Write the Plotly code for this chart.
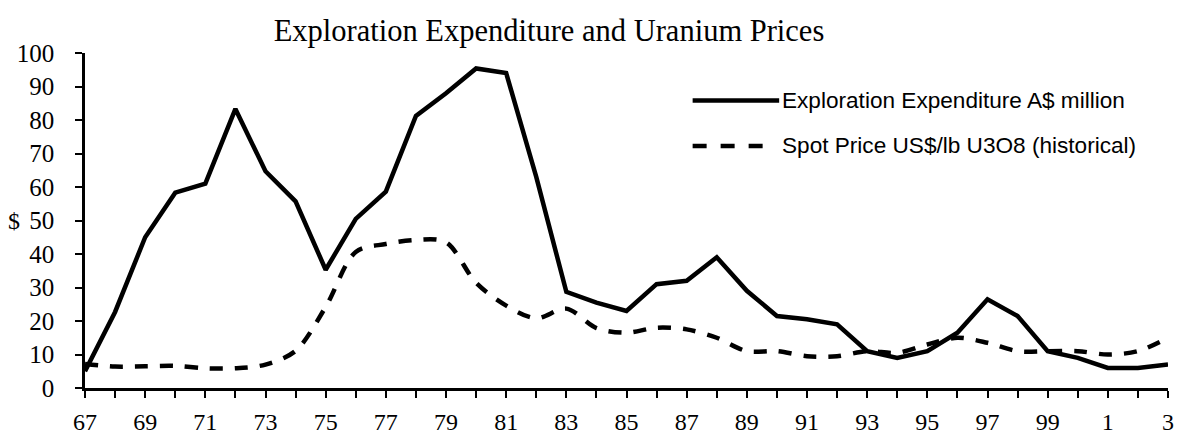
import plotly.graph_objects as go

years = list(range(1967, 2004))
expenditure = [5, 22.7, 45, 58.3, 61, 83.3, 64.7, 55.7, 35.3, 50.5, 58.6, 81.2, 88, 95.4, 94,
               63, 28.7, 25.5, 23, 31, 32, 39, 29, 21.5, 20.5, 19, 11, 9, 11, 16.5, 26.5,
               21.5, 11, 9, 6, 6, 7]
spot_price = [7.2, 6.4, 6.5, 6.6, 5.9, 5.9, 7, 11.1, 24.2, 40.6, 43, 44.2, 43.5, 31.4, 24.6,
              20.8, 23.7, 17.9, 16.5, 18, 17.5, 15, 11, 11, 9.5, 9.5, 11, 10.5, 13, 15, 13.5,
              11, 11, 11, 10, 11, 15]
tick_labels = [str(y % 100) if y % 2 == 1 else "" for y in years]
y_ticks = list(range(0, 101, 10))

title_text = "Exploration Expenditure and Uranium Prices"
series_names = ["Exploration Expenditure A$ million", "Spot Price US$/lb U3O8 (historical)"]

serif = "Liberation Serif, Times New Roman, serif"
sans = "Liberation Sans, Arial, sans-serif"

fig = go.Figure()
fig.add_trace(go.Scatter(x=years, y=spot_price, mode="lines", name=series_names[1],
                         line=dict(color="black", width=4.5, dash="13px,12px", shape="spline", smoothing=0.9),
                         showlegend=False, hoverinfo="skip"))
fig.add_trace(go.Scatter(x=years, y=expenditure, mode="lines", name=series_names[0],
                         line=dict(color="black", width=4.5), showlegend=False, hoverinfo="skip"))

W, H = 1182, 443
L, R, T, B = 85, 8, 53, 44
pw, ph = W - L - R, H - T - B

def px(xp):
    return (xp - L) / pw

def py(yp):
    return (H - B - yp) / ph

# legend (drawn manually)
row1, row2 = py(102), py(149)
fig.add_shape(type="line", xref="paper", yref="paper", x0=px(696), x1=px(783), y0=row1, y1=row1,
              line=dict(color="black", width=4.5))
fig.add_shape(type="line", xref="paper", yref="paper", x0=px(696), x1=px(768), y0=row2, y1=row2,
              line=dict(color="black", width=4.5, dash="14px,14px"))
fig.add_annotation(x=px(784), y=row1, xref="paper", yref="paper", text=series_names[0],
                   showarrow=False, xanchor="left", yanchor="middle",
                   font=dict(family=sans, size=22.6, color="black"))
fig.add_annotation(x=px(784), y=row2, xref="paper", yref="paper", text=series_names[1],
                   showarrow=False, xanchor="left", yanchor="middle",
                   font=dict(family=sans, size=22.6, color="black"))
# y axis "$" label
fig.add_annotation(x=px(14), y=50, xref="paper", yref="y", text="$", showarrow=False,
                   xanchor="center", yanchor="middle", font=dict(family=serif, size=24, color="black"))

fig.update_layout(
    width=W, height=H,
    margin=dict(l=L, r=R, t=T, b=B, pad=0),
    paper_bgcolor="white", plot_bgcolor="white",
    hovermode=False,
    title=dict(text=title_text, x=549 / W, xanchor="center", y=1 - 30 / H, yanchor="middle",
               font=dict(family=serif, size=30.5, color="black")),
    xaxis=dict(range=[1967, 2003], tickmode="array", tickvals=years, ticktext=tick_labels,
               ticks="outside", ticklen=7, tickwidth=2, tickcolor="black",
               showline=True, linecolor="black", linewidth=3, showgrid=False, zeroline=False,
               tickfont=dict(family=serif, size=24, color="black"), ticklabelstandoff=3),
    yaxis=dict(range=[0, 100], tickmode="array", tickvals=y_ticks,
               ticks="outside", ticklen=7, tickwidth=2, tickcolor="black",
               showline=True, linecolor="black", linewidth=2.5, showgrid=False, zeroline=False,
               tickfont=dict(family=serif, size=25, color="black"), ticklabelstandoff=16),
)

fig.write_html("out.html", config={"displayModeBar": False},
               post_script="document.body.style.margin='0';document.body.style.overflow='hidden';")
